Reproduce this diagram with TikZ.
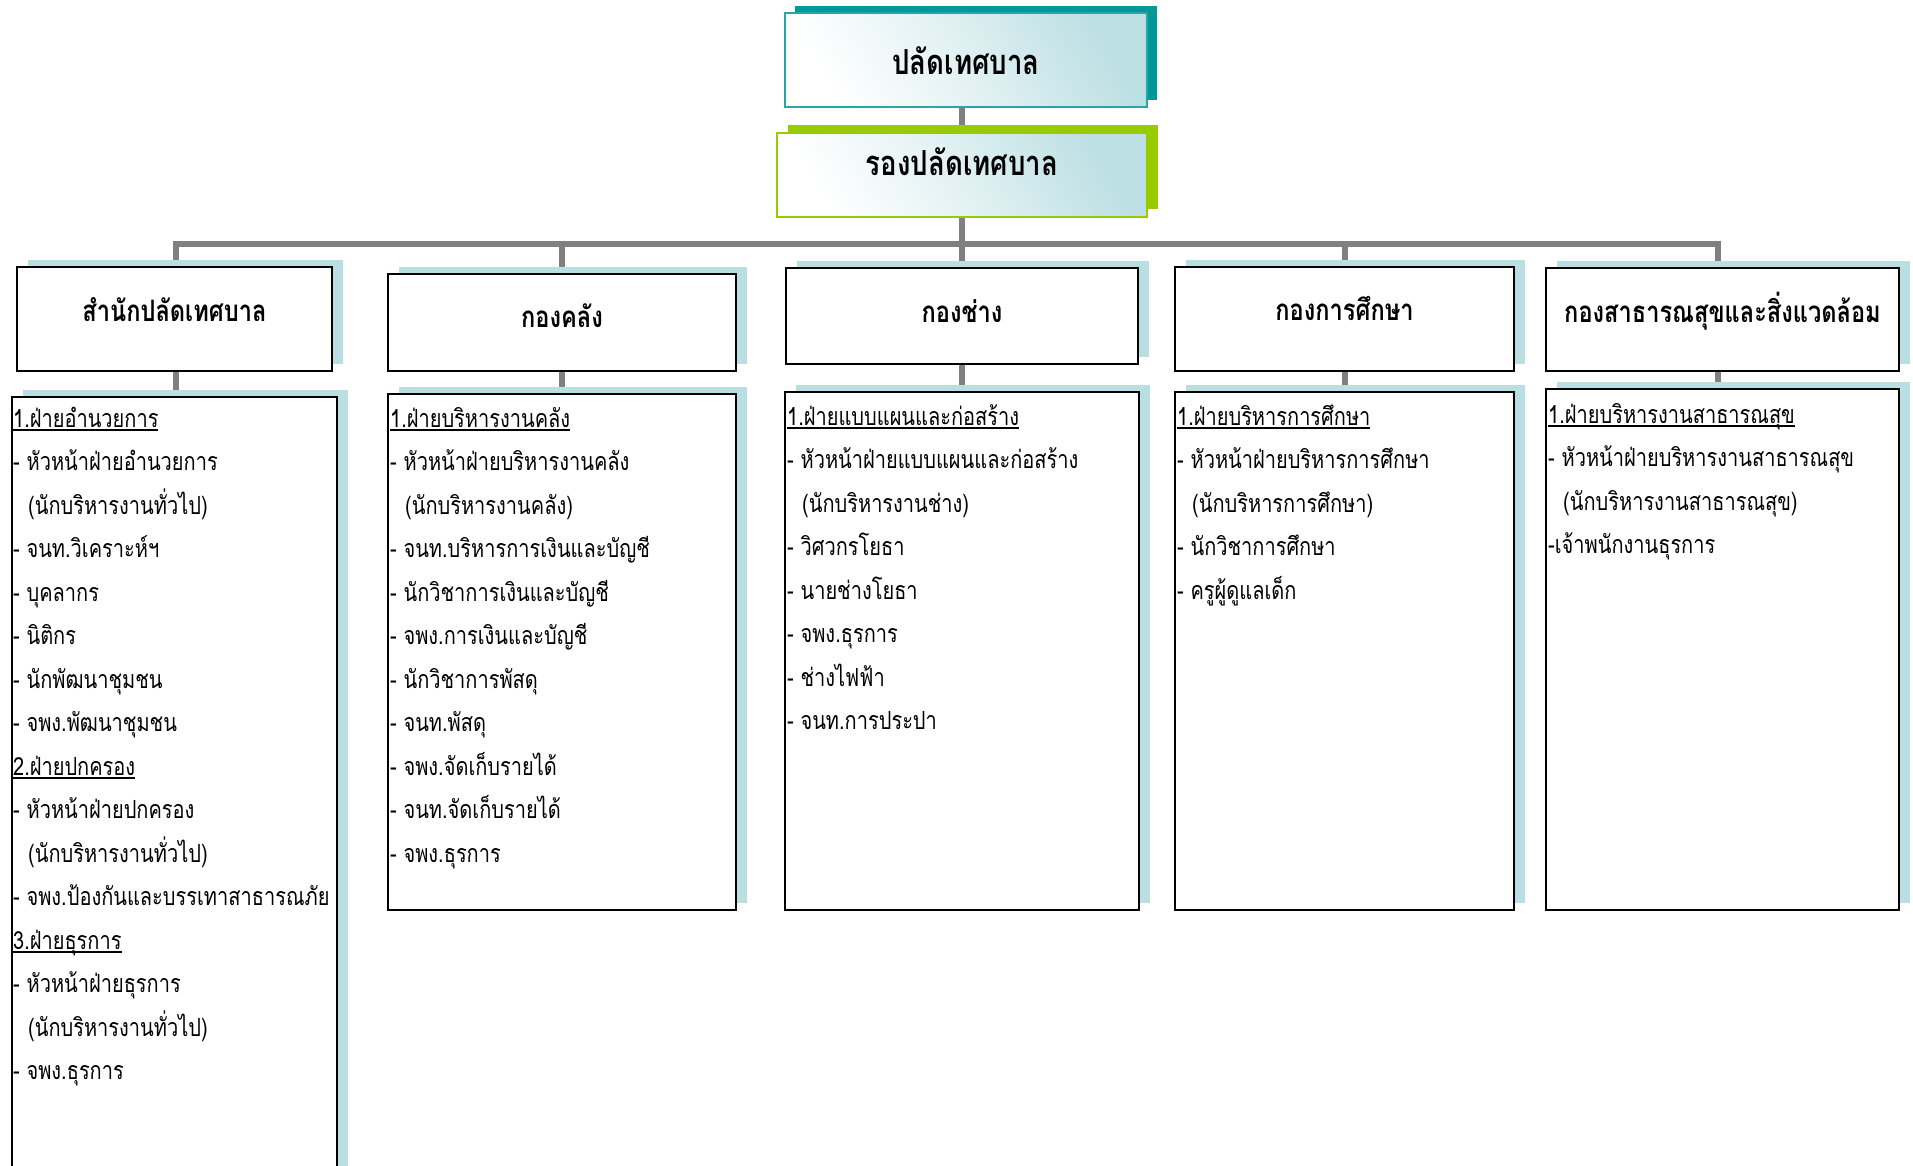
\documentclass[tikz,border=0pt]{standalone}
\usepackage{fontspec}
\newfontfamily\thai[Script=Thai,FakeStretch=0.8]{Loma}
\usetikzlibrary{shadows,backgrounds}
\definecolor{shblue}{RGB}{185,223,227}
\definecolor{tealsh}{RGB}{0,153,153}
\definecolor{tealbd}{RGB}{40,165,165}
\definecolor{greensh}{RGB}{153,204,0}
\definecolor{lineg}{RGB}{128,128,128}
\definecolor{gradc}{RGB}{188,223,227}
\newcommand\hdline[1]{\setbox0\hbox{#1}\rlap{\rule[-3.5pt]{\wd0}{1.3pt}}\box0}
\newcommand\indt{\hspace*{15pt}}
\tikzset{
  conn/.style={draw=lineg, line width=6pt},
  topbox/.style={line width=1.6pt, inner sep=0pt, top color=gradc, bottom color=white, middle color=white!55!gradc, shading angle=-60},
  deptbox/.style={draw=black, line width=2.2pt, fill=white, inner sep=0pt,
    general shadow={fill=shblue, shadow xshift=11pt, shadow yshift=7.5pt}},
  toptext/.style={font=\thai\bfseries\fontsize{34.5}{40}\selectfont, inner sep=0pt, anchor=base},
  depttext/.style={font=\thai\bfseries\fontsize{29.5}{34}\selectfont, inner sep=0pt, anchor=base},
  itemtext/.style={font=\thai\fontsize{25}{30}\selectfont, inner sep=0pt, anchor=base west},
}
\begin{document}
\begin{tikzpicture}[x=1pt,y=-1pt]
\useasboundingbox (0,0) rectangle (1913,1165);
\clip (0,0) rectangle (1913,1165);
% top boxes
\node[topbox, draw=tealbd, minimum width=362, minimum height=94,
  general shadow={fill=tealsh, shadow xshift=10pt, shadow yshift=7pt}] (p1) at (966,60) {};
\node[toptext] (p1t) at (966,74) {ปลัดเทศบาล};
\node[topbox, draw=greensh, minimum width=370, minimum height=84,
  general shadow={fill=greensh, shadow xshift=11pt, shadow yshift=8pt}] (p2) at (962,175) {};
\node[toptext] (p2t) at (962,175) {รองปลัดเทศบาล};
% department boxes
\node[deptbox, minimum width=315, minimum height=104] (d1) at (174.5,319) {};
\node[deptbox, minimum width=348, minimum height=97] (d2) at (562,322.5) {};
\node[deptbox, minimum width=352, minimum height=96] (d3) at (962,316) {};
\node[deptbox, minimum width=339, minimum height=104] (d4) at (1344.5,319) {};
\node[deptbox, minimum width=353, minimum height=103] (d5) at (1722.5,319.5) {};
\node[depttext] (d1t) at (174.5,321) {สำนักปลัดเทศบาล};
\node[depttext] (d2t) at (562,327) {กองคลัง};
\node[depttext] (d3t) at (962,322) {กองช่าง};
\node[depttext] (d4t) at (1344.5,320) {กองการศึกษา};
\node[depttext] (d5t) at (1722.5,322) {กองสาธารณสุขและสิ่งแวดล้อม};
% sub boxes
\node[deptbox, minimum width=325, minimum height=783] (s1) at (174.5,788.5) {};
\node[deptbox, minimum width=348, minimum height=516] (s2) at (562,652) {};
\node[deptbox, minimum width=354, minimum height=518] (s3) at (962,651) {};
\node[deptbox, minimum width=339, minimum height=518] (s4) at (1344.5,651) {};
\node[deptbox, minimum width=353, minimum height=521] (s5) at (1722.5,649.5) {};
% connectors
\begin{scope}[on background layer]
\coordinate (bar) at (0,243.5);
\coordinate (k1) at ([xshift=1.5pt]d1.north);
\coordinate (k5) at ([xshift=-4.5pt]d5.north);
\draw[conn] (p1.south) ++(-4.5,0) coordinate (c1) -- (c1 |- p2.north);
\draw[conn] (p2.south -| d3.north) -- (d3.north);
\draw[conn] (k1) -- (k1 |- bar) -- (k5 |- bar) -- (k5);
\draw[conn] (d2.north |- bar) -- (d2.north);
\draw[conn] (d4.north |- bar) -- (d4.north);
\draw[conn] ([xshift=1.5pt]d1.south) -- ([xshift=1.5pt]s1.north);
\draw[conn] (d2.south) -- (s2.north);
\draw[conn] (d3.south) -- (s3.north);
\draw[conn] (d4.south) -- (s4.north);
\draw[conn] ([xshift=-4.5pt]d5.south) -- ([xshift=-4.5pt]s5.north);
\end{scope}
% items
\foreach \t [count=\i from 0] in {
  {\hdline{1.ฝ่ายอำนวยการ}},
  {- หัวหน้าฝ่ายอำนวยการ},
  {\indt(นักบริหารงานทั่วไป)},
  {- จนท.วิเคราะห์ฯ},
  {- บุคลากร},
  {- นิติกร},
  {- นักพัฒนาชุมชน},
  {- จพง.พัฒนาชุมชน},
  {\hdline{2.ฝ่ายปกครอง}},
  {- หัวหน้าฝ่ายปกครอง},
  {\indt(นักบริหารงานทั่วไป)},
  {- จพง.ป้องกันและบรรเทาสาธารณภัย},
  {\hdline{3.ฝ่ายธุรการ}},
  {- หัวหน้าฝ่ายธุรการ},
  {\indt(นักบริหารงานทั่วไป)},
  {- จพง.ธุรการ}}
  \node[itemtext] (s1t\i) at (13,{427+43.5*\i}) {\t};
\foreach \t [count=\i from 0] in {
  {\hdline{1.ฝ่ายบริหารงานคลัง}},
  {- หัวหน้าฝ่ายบริหารงานคลัง},
  {\indt(นักบริหารงานคลัง)},
  {- จนท.บริหารการเงินและบัญชี},
  {- นักวิชาการเงินและบัญชี},
  {- จพง.การเงินและบัญชี},
  {- นักวิชาการพัสดุ},
  {- จนท.พัสดุ},
  {- จพง.จัดเก็บรายได้},
  {- จนท.จัดเก็บรายได้},
  {- จพง.ธุรการ}}
  \node[itemtext] (s2t\i) at (390,{427+43.5*\i}) {\t};
\foreach \t [count=\i from 0] in {
  {\hdline{1.ฝ่ายแบบแผนและก่อสร้าง}},
  {- หัวหน้าฝ่ายแบบแผนและก่อสร้าง},
  {\indt(นักบริหารงานช่าง)},
  {- วิศวกรโยธา},
  {- นายช่างโยธา},
  {- จพง.ธุรการ},
  {- ช่างไฟฟ้า},
  {- จนท.การประปา}}
  \node[itemtext] (s3t\i) at (787,{425+43.5*\i}) {\t};
\foreach \t [count=\i from 0] in {
  {\hdline{1.ฝ่ายบริหารการศึกษา}},
  {- หัวหน้าฝ่ายบริหารการศึกษา},
  {\indt(นักบริหารการศึกษา)},
  {- นักวิชาการศึกษา},
  {- ครูผู้ดูแลเด็ก}}
  \node[itemtext] (s4t\i) at (1177,{425+43.5*\i}) {\t};
\foreach \t [count=\i from 0] in {
  {\hdline{1.ฝ่ายบริหารงานสาธารณสุข}},
  {- หัวหน้าฝ่ายบริหารงานสาธารณสุข},
  {\indt(นักบริหารงานสาธารณสุข)},
  {-เจ้าพนักงานธุรการ}}
  \node[itemtext] (s5t\i) at (1548,{423+43.5*\i}) {\t};
\end{tikzpicture}
\end{document}
